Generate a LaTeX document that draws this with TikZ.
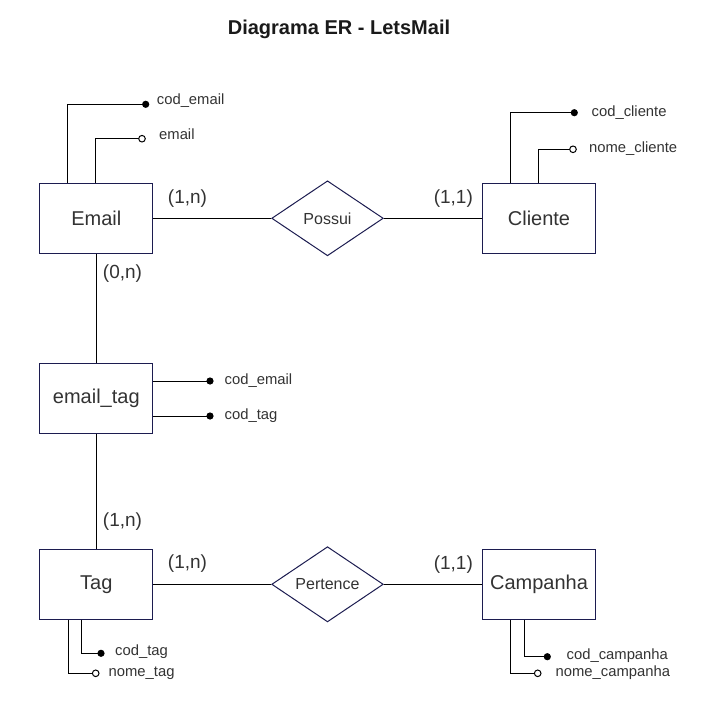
\documentclass[tikz,border=0pt]{standalone}
\usepackage{fontspec}
\setmainfont{Liberation Sans}
\usetikzlibrary{shapes.geometric}
\definecolor{boxline}{RGB}{28,28,80}
\definecolor{txt}{RGB}{51,51,51}
\definecolor{ttl}{RGB}{26,26,26}
\begin{document}
\begin{tikzpicture}[x=1bp,y=-1bp,
  entity/.style={draw=boxline, line width=1bp, fill=white, minimum width=112.7bp, minimum height=70bp, inner sep=0pt, text=txt, font=\fontsize{20bp}{23bp}\selectfont},
  rel/.style={draw=boxline, line width=1bp, fill=white, shape=diamond, minimum width=111.6bp, minimum height=75bp, inner sep=0pt, text=txt, font=\fontsize{16bp}{19bp}\selectfont},
  attr/.style={anchor=west, inner sep=0pt, text=txt, font=\fontsize{14.8bp}{17bp}\selectfont},
  card/.style={inner sep=0pt, text=txt, font=\fontsize{19bp}{22bp}\selectfont},
  conn/.style={line width=1bp, black},
  keydot/.style={fill=black},
  optdot/.style={draw=black, line width=1bp, fill=white}
]
\fill[white] (0,0) rectangle (713,720);
\useasboundingbox (0,0) rectangle (713,720);

% title
\node[inner sep=0pt, text=ttl, font=\bfseries\fontsize{20bp}{23bp}\selectfont] (title) at (339,29) {Diagrama ER - LetsMail};

% entities
\node[entity] (Email) at (96.3,218.3) {Email};
\node[entity] (Cliente) at (539,218.3) {Cliente};
\node[entity] (EmailTag) at (96.3,398.3) {email\_tag};
\node[entity] (Tag) at (96.3,584.3) {Tag};
\node[entity] (Campanha) at (539,584.3) {Campanha};

% relationships
\node[rel] (Possui) at (327.5,218.3) {Possui};
\node[rel] (Pertence) at (327.5,584.3) {Pertence};

% relationship connectors
\draw[conn] (Email.east) -- (Possui.west);
\draw[conn] (Possui.east) -- (Cliente.west);
\draw[conn] (Tag.east) -- (Pertence.west);
\draw[conn] (Pertence.east) -- (Campanha.west);
\draw[conn] (Email.south) -- (EmailTag.north);
\draw[conn] (EmailTag.south) -- (Tag.north);

% cardinalities
\node[card] (c1) at (187.5,199) {(1,n)};
\node[card] (c2) at (453.3,199) {(1,1)};
\node[card] (c3) at (122.5,274) {(0,n)};
\node[card] (c4) at (122.5,522) {(1,n)};
\node[card] (c5) at (187.5,563.5) {(1,n)};
\node[card] (c6) at (453.3,565) {(1,1)};

% Email attributes
\coordinate (eK) at (145.7,104.3);
\coordinate (eO) at (142,138.7);
\draw[conn] ([xshift=28bp]Email.north west) |- (eK);
\draw[conn] ([xshift=56.5bp]Email.north west) |- (eO);
\fill[keydot] (eK) circle (3.6bp);
\draw[optdot] (eO) circle (3.3bp);
\node[attr] (aE1) at (156.7,100.5) {cod\_email};
\node[attr] (aE2) at (159,134) {email};

% Cliente attributes
\coordinate (cK) at (574.3,112.7);
\coordinate (cO) at (573,149.3);
\draw[conn] ([xshift=28.4bp]Cliente.north west) |- (cK);
\draw[conn] ([xshift=56bp]Cliente.north west) |- (cO);
\fill[keydot] (cK) circle (3.6bp);
\draw[optdot] (cO) circle (3.3bp);
\node[attr] (aC1) at (591.5,113) {cod\_cliente};
\node[attr] (aC2) at (589,149) {nome\_cliente};

% email_tag attributes
\coordinate (tK1) at (210,381);
\coordinate (tK2) at (210,416);
\draw[conn] (EmailTag.east |- tK1) -- (tK1);
\draw[conn] (EmailTag.east |- tK2) -- (tK2);
\fill[keydot] (tK1) circle (3.6bp);
\fill[keydot] (tK2) circle (3.6bp);
\node[attr] (aT1) at (224.5,380.5) {cod\_email};
\node[attr] (aT2) at (224.5,415.5) {cod\_tag};

% Tag attributes
\coordinate (gK) at (101,653.3);
\coordinate (gO) at (95.7,673.3);
\draw[conn] ([xshift=42.3bp]Tag.south west) |- (gK);
\draw[conn] ([xshift=29.3bp]Tag.south west) |- (gO);
\fill[keydot] (gK) circle (3.6bp);
\draw[optdot] (gO) circle (3.3bp);
\node[attr] (aG1) at (115,651.5) {cod\_tag};
\node[attr] (aG2) at (108.5,673) {nome\_tag};

% Campanha attributes
\coordinate (pK) at (547.3,656.7);
\coordinate (pO) at (537.7,673.3);
\draw[conn] ([xshift=42bp]Campanha.south west) |- (pK);
\draw[conn] ([xshift=28.7bp]Campanha.south west) |- (pO);
\fill[keydot] (pK) circle (3.6bp);
\draw[optdot] (pO) circle (3.3bp);
\node[attr] (aP1) at (566.5,655.5) {cod\_campanha};
\node[attr] (aP2) at (555.5,673) {nome\_campanha};
\end{tikzpicture}
\end{document}
